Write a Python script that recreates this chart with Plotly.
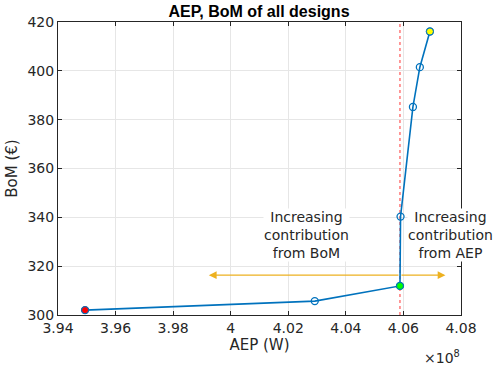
import plotly.graph_objects as go

# AEP in units of 1e8 W, BoM in euro
aep = [3.9494, 4.0292, 4.0588, 4.0590, 4.0633, 4.0657, 4.0692]
bom = [302.0, 305.7, 311.9, 340.3, 385.2, 401.5, 416.1]

best_aep = 4.0588
arrow_y = 316.3
arrow_left = 3.9924
arrow_right = 4.0746

x_ticks = [3.94, 3.96, 3.98, 4.00, 4.02, 4.04, 4.06, 4.08]
x_labels = ["3.94", "3.96", "3.98", "4", "4.02", "4.04", "4.06", "4.08"]
y_ticks = [300, 320, 340, 360, 380, 400, 420]

BLUE = "#0072BD"
ORANGE = "#EDB120"
FONT = "DejaVu Sans"
TXT = "#262626"

fig = go.Figure()

# red dotted vertical marker
fig.add_trace(go.Scatter(x=[best_aep, best_aep], y=[300, 420], mode="lines",
                         line=dict(color="#FF3333", width=1, dash="dot"),
                         hoverinfo="skip", showlegend=False))

fig.add_trace(go.Scatter(x=aep, y=bom, mode="lines+markers",
                         line=dict(color=BLUE, width=1.6),
                         marker=dict(symbol="circle-open", size=7, color=BLUE,
                                     line=dict(width=1.3)),
                         showlegend=False))

# highlighted designs
special = [(0, "#FF0000"), (2, "#00FF00"), (6, "#FFFF00")]
for i, c in special:
    fig.add_trace(go.Scatter(x=[aep[i]], y=[bom[i]], mode="markers",
                             marker=dict(symbol="circle", size=7, color=c,
                                         line=dict(color=BLUE, width=1)),
                             showlegend=False))

# arrows
for x_end in [arrow_left, arrow_right]:
    fig.add_annotation(x=x_end, y=arrow_y, ax=best_aep, ay=arrow_y,
                       xref="x", yref="y", axref="x", ayref="y",
                       showarrow=True, arrowhead=2, arrowsize=1.2,
                       arrowwidth=1.3, arrowcolor=ORANGE, text="")

fig.add_annotation(x=4.0264, y=332.8, xref="x", yref="y",
                   text="Increasing<br>contribution<br>from BoM", showarrow=False,
                   font=dict(family=FONT, size=14, color=TXT),
                   bgcolor="white", borderpad=0, align="center")
fig.add_annotation(x=4.0764, y=332.8, xref="x", yref="y",
                   text="Increasing<br>contribution<br>from AEP", showarrow=False,
                   font=dict(family=FONT, size=14, color=TXT),
                   bgcolor="white", borderpad=0, align="center")

fig.add_annotation(x=1.003, y=-0.145, xref="paper", yref="paper",
                   text="×10<sup>8</sup>", showarrow=False, xanchor="right",
                   yanchor="middle", font=dict(family=FONT, size=14, color=TXT))

axis_common = dict(showline=True, linecolor=TXT, linewidth=1, mirror="ticks",
                   ticks="inside", ticklen=4, tickcolor=TXT,
                   showgrid=True, gridcolor="#E6E6E6", gridwidth=1,
                   zeroline=False, automargin=False,
                   tickfont=dict(family=FONT, size=14, color=TXT))

fig.update_layout(
    width=500, height=370,
    margin=dict(l=58, r=39, t=22, b=55),
    paper_bgcolor="white", plot_bgcolor="white",
    title=dict(text="<b>AEP, BoM of all designs</b>", x=0.518, xanchor="center",
               y=0.968, yanchor="middle",
               font=dict(family="Liberation Sans", size=16, color="black")),
    xaxis=dict(range=[3.94, 4.08], tickvals=x_ticks, ticktext=x_labels,
               title=dict(text="AEP (W)", standoff=4,
                          font=dict(family=FONT, size=15, color=TXT)),
               **axis_common),
    yaxis=dict(range=[300, 420], tickvals=y_ticks,
               title=dict(text="BoM (€)", standoff=6,
                          font=dict(family=FONT, size=15, color=TXT)),
               **axis_common),
)

# drop the default page margin so the figure sits at the window corner
fig.write_html("out.html", config={"displayModeBar": False},
               post_script="document.body.style.margin='0';")
